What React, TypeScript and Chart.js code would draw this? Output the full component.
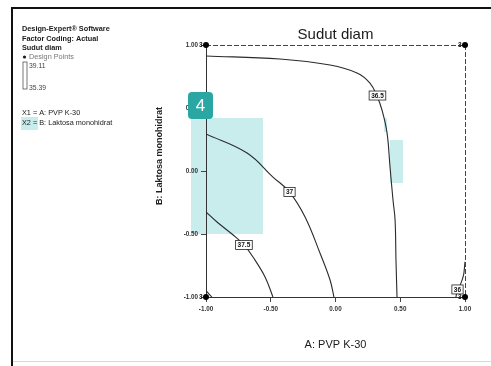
import React, { useEffect, useRef } from "react";
import { Chart, registerables } from "chart.js";

Chart.register(...registerables);

const FONT = "'Liberation Sans', Arial, sans-serif";

// ---- data ----
const chartTitle = "Sudut diam";
const xAxisTitle = "A: PVP K-30";
const yAxisTitle = "B: Laktosa monohidrat";
const xTicks = [-1, -0.5, 0, 0.5, 1];
const yTicks = [-1, -0.5, 0, 0.5, 1];

// contour 36.5
const c365X = [-1, -0.429, -0.042, 0.166, 0.266, 0.32, 0.359, 0.398, 0.421, 0.444, 0.46, 0.467, 0.475];
const c365Y = [0.913, 0.889, 0.841, 0.778, 0.698, 0.595, 0.484, 0.302, 0.032, -0.23, -0.389, -0.706, -1];
// contour 37
const c37X = [-1, -0.683, -0.483, -0.355, -0.235, -0.12, -0.042, -0.012];
const c37Y = [0.294, 0.143, -0.048, -0.167, -0.365, -0.651, -0.865, -1];
// contour 37.5
const c375X = [-1, -0.915, -0.79, -0.707, -0.637, -0.544, -0.483];
const c375Y = [-0.325, -0.405, -0.508, -0.587, -0.683, -0.841, -1];
// contour 36
const c36X = [1, 0.99, 0.965, 0.942, 0.93];
const c36Y = [-0.72, -0.82, -0.9, -0.94, -1];
// tiny contour at lower-left corner
const c38X = [-1, -0.955];
const c38Y = [-0.95, -1];

const contourLabelText = ["36.5", "37", "37.5", "36"];
const contourLabelX = [0.324, -0.355, -0.707, 0.942];
const contourLabelY = [0.599, -0.167, -0.587, -0.94];

const designX = [-1, 1, -1, 1];
const designY = [1, 1, -1, -1];
const designRuns = ["3", "3", "3", "3"];

const legendHeader = ["Design-Expert\u00AE Software", "Factor Coding: Actual", "Sudut diam"];
const legendPoints = "Design Points";
const legendHigh = "39.11";
const legendLow = "35.39";
const factorLines = ["X1 = A: PVP K-30", "X2 = B: Laktosa monohidrat"];

const toPts = (xs: number[], ys: number[]) => xs.map((x, i) => ({ x, y: ys[i] }));

const decorPlugin = {
  id: "decor",
  beforeDraw(chart: any) {
    const ctx = chart.ctx;
    ctx.save();
    ctx.fillStyle = "#ffffff";
    ctx.fillRect(0, 0, chart.width, chart.height);
    // outer frame
    ctx.strokeStyle = "#111";
    ctx.lineWidth = 2;
    ctx.beginPath();
    ctx.moveTo(12, 366);
    ctx.lineTo(12, 8);
    ctx.lineTo(491, 8);
    ctx.stroke();
    ctx.strokeStyle = "#d8d8d8";
    ctx.lineWidth = 1;
    ctx.beginPath();
    ctx.moveTo(13, 361.5);
    ctx.lineTo(491, 361.5);
    ctx.stroke();
    // highlight overlays
    ctx.fillStyle = "#c9ecec";
    ctx.fillRect(191, 118, 72, 116);
    ctx.fillRect(390, 140, 13, 43);
    ctx.fillRect(384, 118, 3, 14);
    ctx.fillRect(21, 117, 17, 13);
    ctx.restore();
  },
  afterDatasetsDraw(chart: any) {
    const ctx = chart.ctx;
    const xs = chart.scales.x;
    const ys = chart.scales.y;
    const ca = chart.chartArea;
    ctx.save();
    // top/right frame of plot
    ctx.strokeStyle = "#444";
    ctx.lineWidth = 1;
    ctx.setLineDash([5, 2]);
    ctx.beginPath();
    ctx.moveTo(ca.left, ca.top + 0.5);
    ctx.lineTo(ca.right + 0.5, ca.top + 0.5);
    ctx.lineTo(ca.right + 0.5, ca.bottom);
    ctx.stroke();
    ctx.setLineDash([]);
    // contour labels
    ctx.font = `bold 6.5px ${FONT}`;
    ctx.textAlign = "center";
    ctx.textBaseline = "middle";
    contourLabelText.forEach((t, i) => {
      const px = xs.getPixelForValue(contourLabelX[i]);
      const py = ys.getPixelForValue(contourLabelY[i]);
      const w = ctx.measureText(t).width + 4;
      const h = 9;
      ctx.fillStyle = "#fff";
      ctx.fillRect(px - w / 2, py - h / 2, w, h);
      ctx.strokeStyle = "#222";
      ctx.lineWidth = 0.8;
      ctx.strokeRect(px - w / 2, py - h / 2, w, h);
      ctx.fillStyle = "#111";
      ctx.fillText(t, px, py + 0.5);
    });
    // design points and run counts
    ctx.font = `bold 6.5px ${FONT}`;
    ctx.textAlign = "right";
    designRuns.forEach((t, i) => {
      const px = xs.getPixelForValue(designX[i]);
      const py = ys.getPixelForValue(designY[i]);
      ctx.fillStyle = "#000";
      ctx.beginPath();
      ctx.arc(px, py, 3, 0, Math.PI * 2);
      ctx.fill();
      ctx.fillStyle = "#111";
      ctx.fillText(t, px - 3.5, py + 0.5);
    });
    ctx.restore();
  },
  afterDraw(chart: any) {
    const ctx = chart.ctx;
    ctx.save();
    ctx.textBaseline = "middle";
    ctx.textAlign = "left";
    // left info panel
    ctx.fillStyle = "#1a1a1a";
    ctx.font = `bold 7.3px ${FONT}`;
    legendHeader.forEach((t, i) => ctx.fillText(t, 22, 29 + i * 9.5));
    ctx.beginPath();
    ctx.arc(24.5, 57, 1.6, 0, Math.PI * 2);
    ctx.fill();
    ctx.fillStyle = "#777";
    ctx.font = `7.3px ${FONT}`;
    ctx.fillText(legendPoints, 29, 57);
    ctx.strokeStyle = "#555";
    ctx.lineWidth = 0.8;
    ctx.strokeRect(23, 62, 4, 27);
    ctx.fillStyle = "#444";
    ctx.font = `6.8px ${FONT}`;
    ctx.fillText(legendHigh, 29, 66);
    ctx.fillText(legendLow, 29, 88);
    ctx.fillStyle = "#1a1a1a";
    ctx.font = `7.3px ${FONT}`;
    factorLines.forEach((t, i) => ctx.fillText(t, 22, 113 + i * 10));
    // y axis title
    ctx.save();
    ctx.translate(160, 156);
    ctx.rotate(-Math.PI / 2);
    ctx.textAlign = "center";
    ctx.font = `bold 9px ${FONT}`;
    ctx.fillStyle = "#222";
    ctx.fillText(yAxisTitle, 0, 0);
    ctx.restore();
    // badge
    const bx = 188, by = 92, bw = 25, bh = 27, r = 4;
    ctx.fillStyle = "#2aa7a2";
    ctx.beginPath();
    ctx.moveTo(bx + r, by);
    ctx.lineTo(bx + bw - r, by);
    ctx.quadraticCurveTo(bx + bw, by, bx + bw, by + r);
    ctx.lineTo(bx + bw, by + bh - r);
    ctx.quadraticCurveTo(bx + bw, by + bh, bx + bw - r, by + bh);
    ctx.lineTo(bx + r, by + bh);
    ctx.quadraticCurveTo(bx, by + bh, bx, by + bh - r);
    ctx.lineTo(bx, by + r);
    ctx.quadraticCurveTo(bx, by, bx + r, by);
    ctx.fill();
    ctx.fillStyle = "#fff";
    ctx.font = `17px ${FONT}`;
    ctx.textAlign = "center";
    ctx.fillText("4", bx + bw / 2, by + bh / 2 + 1);
    ctx.restore();
  },
};

export default function App() {
  const ref = useRef<HTMLCanvasElement | null>(null);
  useEffect(() => {
    if (!ref.current) return;
    const lineStyle = {
      showLine: true,
      borderColor: "#2a2a2a",
      borderWidth: 1.1,
      pointRadius: 0,
      tension: 0.4,
      fill: false,
    };
    const chart = new Chart(ref.current, {
      type: "scatter",
      data: {
        datasets: [
          { ...lineStyle, data: toPts(c365X, c365Y) },
          { ...lineStyle, data: toPts(c37X, c37Y) },
          { ...lineStyle, data: toPts(c375X, c375Y) },
          { ...lineStyle, tension: 0.2, data: toPts(c36X, c36Y) },
          { ...lineStyle, data: toPts(c38X, c38Y) },
        ],
      } as any,
      options: {
        animation: false,
        responsive: false,
        events: [],
        layout: { padding: { left: 0, right: 26, top: 0, bottom: 0 } },
        plugins: {
          legend: { display: false },
          tooltip: { enabled: false },
          title: {
            display: true,
            text: chartTitle,
            fullSize: false,
            color: "#1a1a1a",
            font: { family: FONT, size: 15, weight: "normal" },
            padding: { top: 26, bottom: 1 },
          },
        },
        scales: {
          x: {
            type: "linear",
            min: -1,
            max: 1,
            afterBuildTicks: (s: any) => {
              s.ticks = xTicks.map((v) => ({ value: v }));
            },
            afterFit: (s: any) => {
              s.height = 69;
            },
            ticks: {
              callback: (v: any) => Number(v).toFixed(2),
              font: { family: FONT, size: 6.3, weight: "bold" },
              color: "#333",
              padding: 3,
              maxRotation: 0,
            },
            grid: { drawOnChartArea: false, tickLength: 5, color: "#444" },
            border: { display: true, color: "#333", width: 1 },
            title: {
              display: true,
              text: xAxisTitle,
              color: "#1a1a1a",
              font: { family: FONT, size: 11 },
              padding: { top: 0, bottom: 14 },
            },
          },
          y: {
            type: "linear",
            min: -1,
            max: 1,
            afterBuildTicks: (s: any) => {
              s.ticks = yTicks.map((v) => ({ value: v }));
            },
            afterFit: (s: any) => {
              s.width = 206;
            },
            ticks: {
              callback: (v: any) => Number(v).toFixed(2),
              font: { family: FONT, size: 6.3, weight: "bold" },
              color: "#333",
              padding: 3,
            },
            grid: { drawOnChartArea: false, tickLength: 5, color: "#444" },
            border: { display: true, color: "#333", width: 1 },
          },
        },
      } as any,
      plugins: [decorPlugin],
    });
    return () => chart.destroy();
  }, []);
  return (
    <div style={{ position: "absolute", left: 0, top: 0, width: 491, height: 366, background: "#fff" }}>
      <canvas ref={ref} width={491} height={366} style={{ display: "block" }} />
    </div>
  );
}
